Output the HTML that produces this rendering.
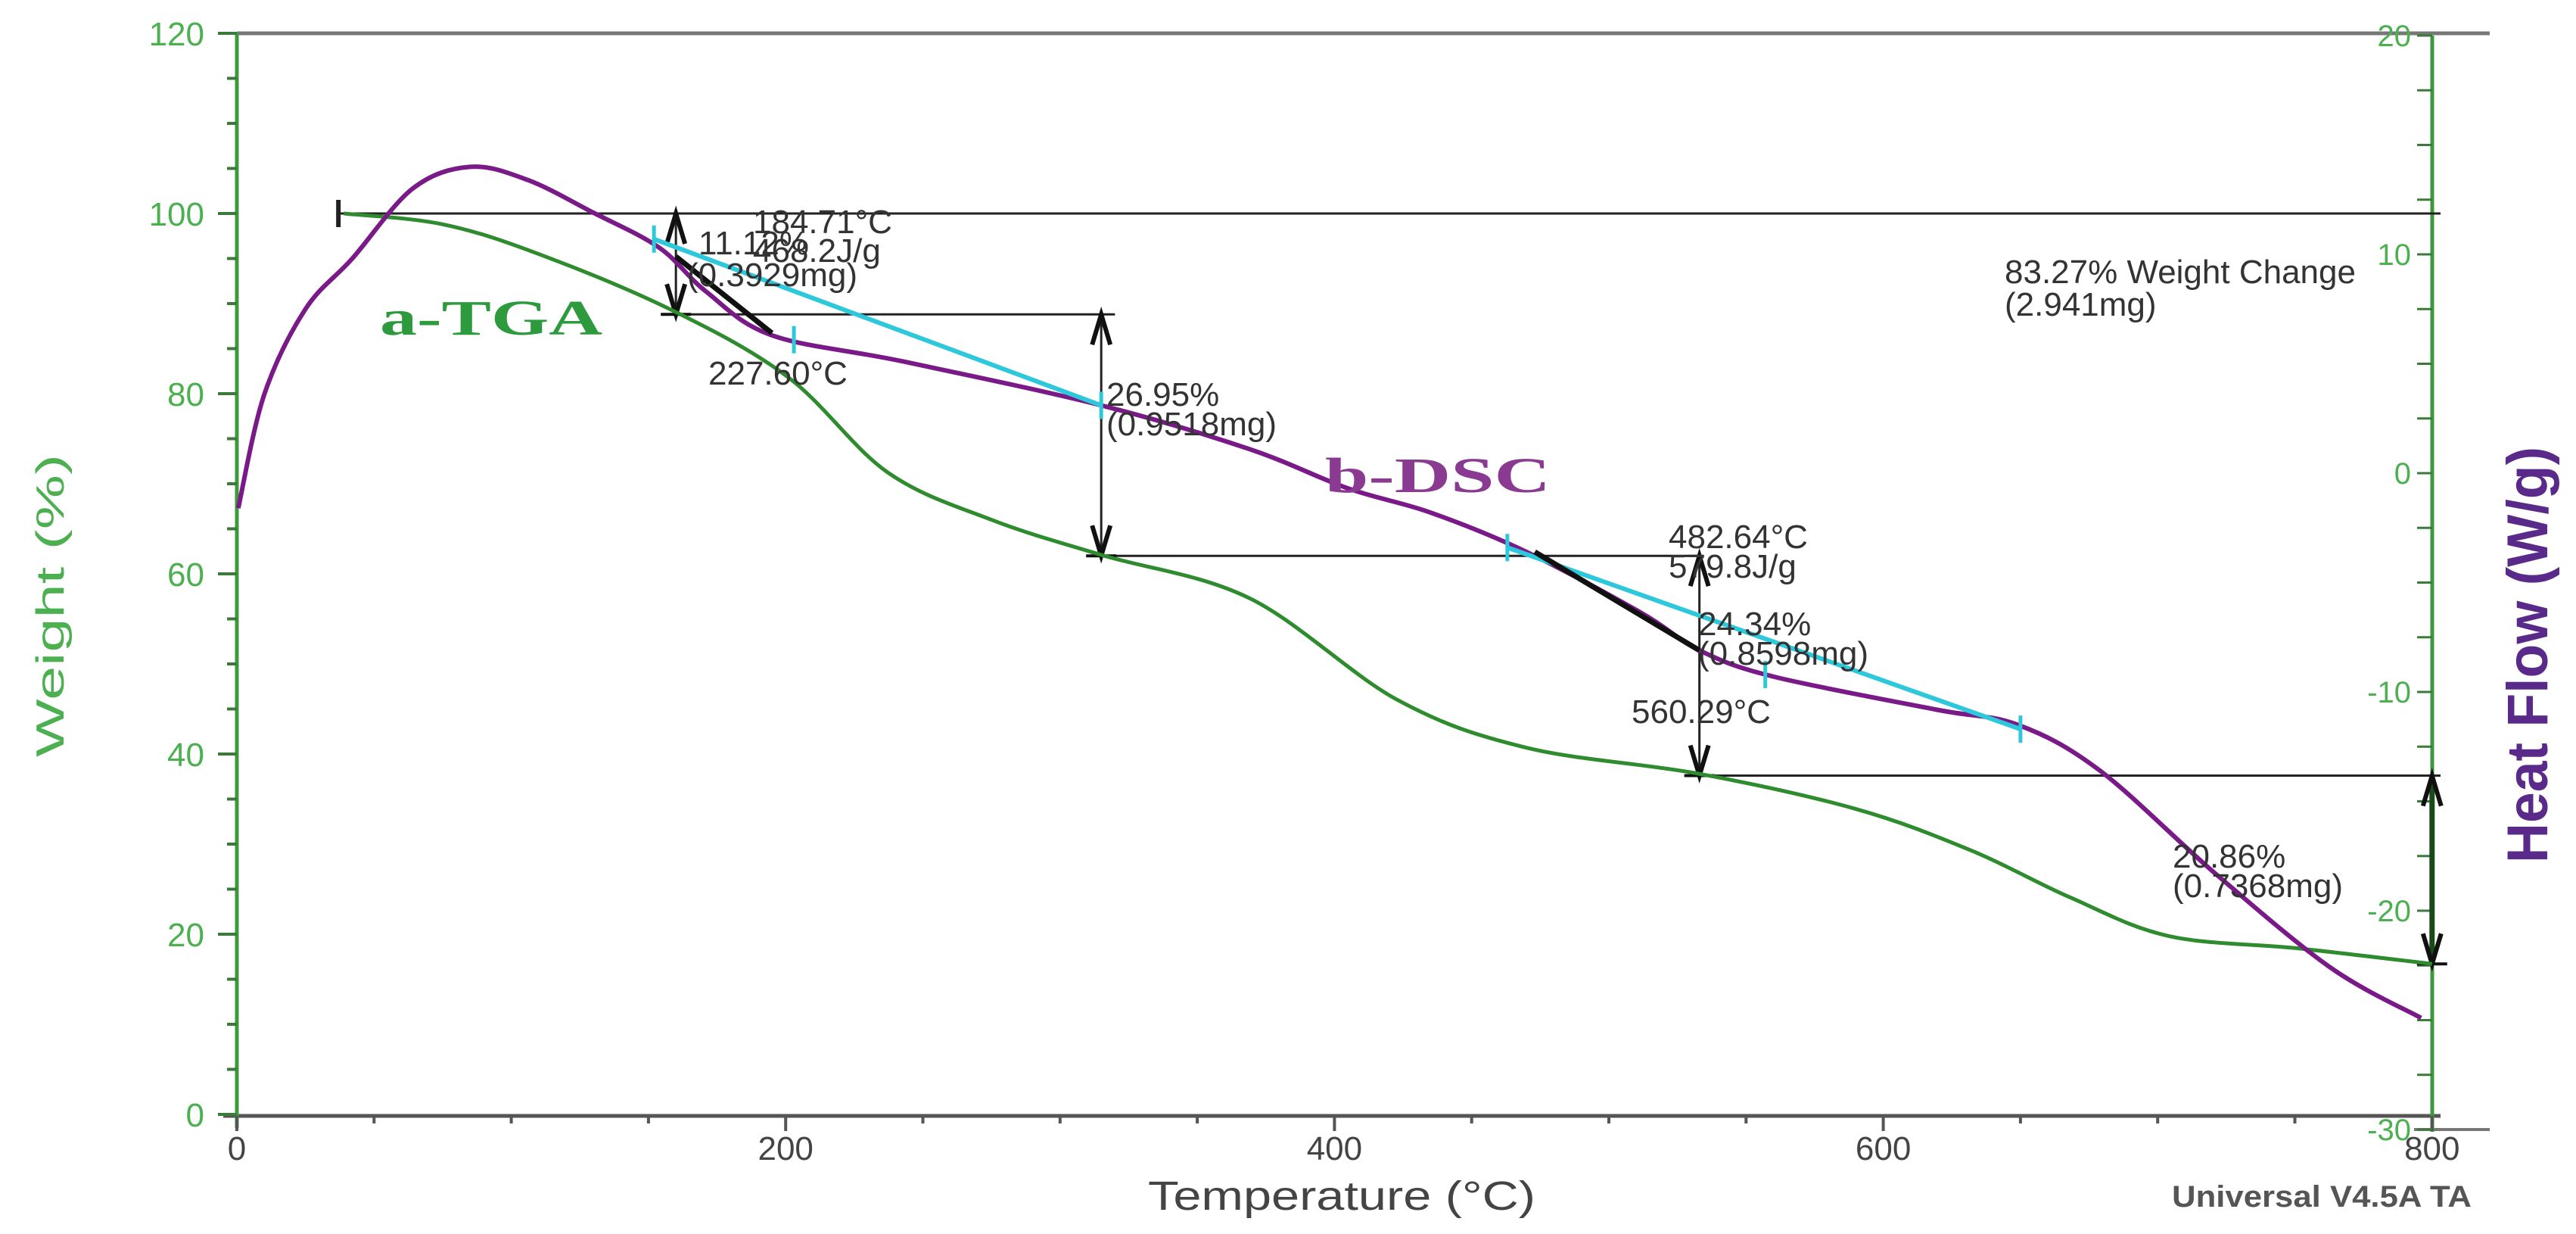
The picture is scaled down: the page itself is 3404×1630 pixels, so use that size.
<!DOCTYPE html>
<html><head><meta charset="utf-8"><style>
html,body{margin:0;padding:0;background:#fff;width:3404px;height:1630px;overflow:hidden}
svg{display:block}
text{font-family:"Liberation Sans",Arial,sans-serif}
</style></head><body>
<svg id="chart" width="3404" height="1630" viewBox="0 0 3404 1630" xmlns="http://www.w3.org/2000/svg">
<g id="axes"></g>
<g id="annot"></g>
<g id="series"></g>
<g id="labels"></g>
</svg>
<script>
const tgaTemp=[39,75,110,159,201,237,275,315,369,423,470,533,590,632,668,704,752,800];
const tgaWeight=[100,98.8,95.5,89.2,81.8,71.3,66,62.1,57.3,46,40.7,37.8,33.9,29.3,24.1,19.8,18.4,16.7];
const dscTemp=[0.5,10,25,42,64,85,106,130,154,171,195,243,315,369,405,435,470,512,533,560,619,649,679,721,763,796];
const dscHeat=[-1.6,3.6,7.5,9.8,13.0,14.0,13.4,11.9,10.3,8.3,6.3,5.1,3.1,1.1,-0.7,-1.8,-3.6,-6.4,-8.1,-9.3,-10.8,-11.5,-13.6,-18.3,-22.6,-24.9];
const weightTicks=[0,20,40,60,80,100,120];
const tempTicks=[0,200,400,600,800];
const heatTicks=[20,10,0,-10,-20,-30];
const stepTemps=[160,315,533,800];
const stepLevels=[100,88.8,62,37.6,16.7];

const X=t=>313+t*3.626;
const YW=w=>1472-w*11.9;
const YH=h=>625-h*28.9;
const NS="http://www.w3.org/2000/svg";
function mk(parent,tag,attrs,txt){const e=document.createElementNS(NS,tag);for(const k in attrs)e.setAttribute(k,attrs[k]);if(txt!==undefined)e.textContent=txt;document.getElementById(parent).appendChild(e);return e;}
function smooth(pts){let d=`M${pts[0][0]},${pts[0][1]}`;for(let i=0;i<pts.length-1;i++){const p0=pts[Math.max(0,i-1)],p1=pts[i],p2=pts[i+1],p3=pts[Math.min(pts.length-1,i+2)];const c1=[p1[0]+(p2[0]-p0[0])/6,p1[1]+(p2[1]-p0[1])/6],c2=[p2[0]-(p3[0]-p1[0])/6,p2[1]-(p3[1]-p1[1])/6];d+=` C${c1[0]},${c1[1]} ${c2[0]},${c2[1]} ${p2[0]},${p2[1]}`;}return d;}

let e;
e=mk('axes','line',{x1:313,y1:YW(120),x2:3290,y2:YW(120),stroke:'#777',"stroke-width":5});

e=mk('axes','line',{x1:295,y1:1474,x2:3225,y2:1474,stroke:'#555',"stroke-width":5});

e=mk('axes','line',{x1:3190,y1:YH(-30),x2:3290,y2:YH(-30),stroke:'#777',"stroke-width":4});

e=mk('axes','line',{x1:313,y1:YW(120),x2:313,y2:1490,stroke:'#3c9a3c',"stroke-width":5});

e=mk('axes','line',{x1:3214,y1:YH(20),x2:3214,y2:1495,stroke:'#3c9a3c',"stroke-width":5});

for(let w=0;w<=120;w+=5){const maj=w%20===0;e=mk('axes','line',{x1:maj?288:300,y1:YW(w),x2:313,y2:YW(w),stroke:'#3c7a3c',"stroke-width":4});
}
weightTicks.forEach(w=>{e=mk('labels','text',{x:270,y:YW(w)+16,"text-anchor":"end","font-size":44,fill:'#4caf50'},w);
});
for(let t=0;t<=800;t+=50){e=mk('axes','line',{x1:X(t),y1:1474,x2:X(t),y2:t%200===0?1494:1484,stroke:'#555',"stroke-width":4});
}
tempTicks.forEach(t=>{e=mk('labels','text',{x:X(t),y:1532,"text-anchor":"middle","font-size":44,fill:'#444'},t);
});
for(let h=-30;h<=20;h+=2.5){e=mk('axes','line',{x1:3194,y1:YH(h),x2:3214,y2:YH(h),stroke:'#3c7a3c',"stroke-width":3});
}
heatTicks.forEach(h=>{e=mk('labels','text',{x:3186,y:YH(h)+14,"text-anchor":"end","font-size":40,fill:'#4caf50'},h);
});

e=mk('annot','line',{x1:X(37),y1:YW(100),x2:3225,y2:YW(100),stroke:'#222',"stroke-width":3});

e=mk('annot','line',{x1:X(37),y1:YW(100)-18,x2:X(37),y2:YW(100)+18,stroke:'#222',"stroke-width":6});

const ends=[320,533,800];
for(let i=1;i<4;i++){e=mk('annot','line',{x1:X(stepTemps[i-1]),y1:YW(stepLevels[i]),x2:i===3?3225:X(ends[i-1]),y2:YW(stepLevels[i]),stroke:'#222',"stroke-width":3});
}
stepTemps.forEach((t,i)=>{const y1=YW(stepLevels[i]),y2=YW(stepLevels[i+1]),x=X(t);const col=i===3?'#1a4a1a':'#222';
e=mk('annot','line',{x1:x,y1:y1,x2:x,y2:y2,stroke:col,"stroke-width":i===3?7:3});

e=mk('annot','path',{d:`M${x-12},${y1+40} L${x},${y1} L${x+12},${y1+40} M${x-12},${y2-40} L${x},${y2} L${x+12},${y2-40}`,fill:'none',stroke:'#111',"stroke-width":6});

e=mk('annot','line',{x1:x-20,y1:y2,x2:x+20,y2:y2,stroke:'#111',"stroke-width":4});
});

e=mk('series','path',{d:smooth(tgaTemp.map((t,i)=>[X(t),YW(tgaWeight[i])])),fill:'none',stroke:'#2e8b2e',"stroke-width":5});

e=mk('series','path',{d:smooth(dscTemp.map((t,i)=>[X(t),YH(dscHeat[i])])),fill:'none',stroke:'#7a1a88',"stroke-width":6});

const cyan=[[152,10.7,315,3.1],[463,-3.4,650,-11.7]];
cyan.forEach(c=>{e=mk('series','line',{x1:X(c[0]),y1:YH(c[1]),x2:X(c[2]),y2:YH(c[3]),stroke:'#2ec8dc',"stroke-width":6});
});
const tang=[[160,9.9,195,6.4],[473,-3.6,533,-8.1]];
tang.forEach(c=>{e=mk('series','line',{x1:X(c[0]),y1:YH(c[1]),x2:X(c[2]),y2:YH(c[3]),stroke:'#111',"stroke-width":7});
});
const marks=[[152,10.7],[203,6.1],[315,3.1],[463,-3.4],[557,-9.2],[650,-11.7]];
marks.forEach(m=>{e=mk('series','line',{x1:X(m[0]),y1:YH(m[1])-18,x2:X(m[0]),y2:YH(m[1])+18,stroke:'#2ec8dc',"stroke-width":5});
});

const notes=[[995,308,'184.71°C'],[923,336,'11.12%'],[995,346,'468.2J/g'],[908,378,'(0.3929mg)'],[936,508,'227.60°C'],[1462,536,'26.95%'],[1462,575,'(0.9518mg)'],[2205,724,'482.64°C'],[2205,763,'579.8J/g'],[2244,839,'24.34%'],[2244,878,'(0.8598mg)'],[2156,955,'560.29°C'],[2649,374,'83.27% Weight Change'],[2649,417,'(2.941mg)'],[2871,1146,'20.86%'],[2871,1185,'(0.7368mg)']];
notes.forEach(n=>{e=mk('labels','text',{x:n[0],y:n[1],"font-size":44,fill:'#333'},n[2]);
});
e=mk('labels','text',{x:502,y:442,"font-size":66,"font-weight":"bold",fill:'#2e9a3e',textLength:294,lengthAdjust:'spacingAndGlyphs',style:'font-family:"Liberation Serif",serif'},'a-TGA');

e=mk('labels','text',{x:1751,y:650,"font-size":66,"font-weight":"bold",fill:'#8a3a90',textLength:298,lengthAdjust:'spacingAndGlyphs',style:'font-family:"Liberation Serif",serif'},'b-DSC');

e=mk('labels','text',{x:0,y:0,"font-size":52,fill:'#4caf50',"text-anchor":"middle",textLength:400,lengthAdjust:'spacingAndGlyphs',transform:'translate(84,800) rotate(-90)'},'Weight (%)');

e=mk('labels','text',{x:1773,y:1598,"font-size":54,fill:'#444',"text-anchor":"middle",textLength:512,lengthAdjust:'spacingAndGlyphs'},'Temperature (°C)');

e=mk('labels','text',{x:0,y:0,"font-size":76,"font-weight":"bold",fill:'#5a2a8a',"text-anchor":"middle",textLength:550,lengthAdjust:'spacingAndGlyphs',transform:'translate(3366,865) rotate(-90)'},'Heat Flow (W/g)');

e=mk('labels','text',{x:3068,y:1594,"font-size":40,"font-weight":"bold",fill:'#555',"text-anchor":"middle",textLength:396,lengthAdjust:'spacingAndGlyphs'},'Universal V4.5A TA');

</script>
</body></html>
